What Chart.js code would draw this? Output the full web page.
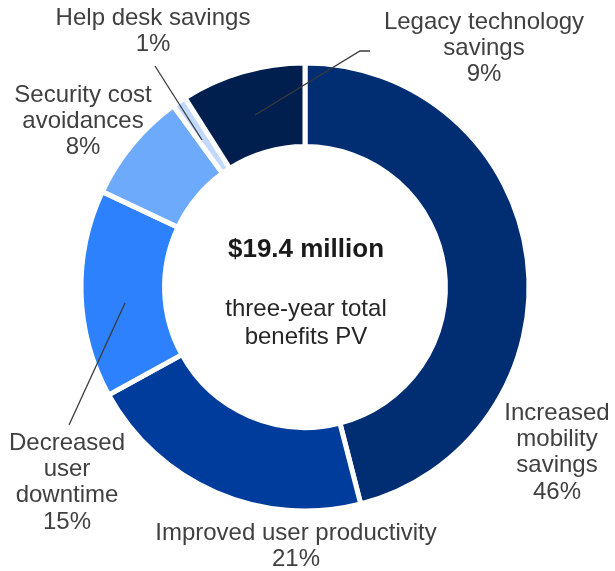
<!DOCTYPE html>
<html>
<head>
<meta charset="utf-8">
<script src="https://cdn.jsdelivr.net/npm/chart.js@4"></script>
<style>
html,body{margin:0;padding:0;background:#fff;}
#wrap{position:relative;width:615px;height:571px;}
</style>
</head>
<body>
<div id="wrap"><canvas id="c" width="615" height="571"></canvas></div>
<script>
// Data (clockwise from 12 o'clock)
const categories = ["Increased mobility savings", "Improved user productivity", "Decreased user downtime", "Security cost avoidances", "Help desk savings", "Legacy technology savings"];
const shares = [46, 21, 15, 8, 1, 9];
const sliceColors = ["#012D72", "#003C9B", "#2E81FD", "#6EAAFC", "#C0D9FC", "#001E4E"];
const centerTitle = "$19.4 million";
const centerSub = ["three-year total", "benefits PV"];
// label lines for each slice (text + percent)
const labelLines = [
  ["Increased", "mobility", "savings", "46%"],
  ["Improved user productivity", "21%"],
  ["Decreased", "user", "downtime", "15%"],
  ["Security cost", "avoidances", "8%"],
  ["Help desk savings", "1%"],
  ["Legacy technology", "savings", "9%"]
];

// Layout of labels (centre x, first line centre y) and leader lines – styling only
const labelPos = [
  [557, 413], [296, 533], [67, 443], [83, 95], [153, 18], [484, 22]
];
const leaders = {
  2: [[125, 303], [69, 425]],
  4: [[155, 66], [202, 140]],
  5: [[370, 51], [360, 51], [255, 115]]
};

const labelPlugin = {
  id: 'labels',
  afterDatasetsDraw(chart) {
    const ctx = chart.ctx;
    ctx.save();
    // leader lines
    ctx.strokeStyle = '#3a3a3a';
    ctx.lineWidth = 1.3;
    Object.keys(leaders).forEach(k => {
      const pts = leaders[k];
      ctx.beginPath();
      ctx.moveTo(pts[0][0], pts[0][1]);
      for (let i = 1; i < pts.length; i++) ctx.lineTo(pts[i][0], pts[i][1]);
      ctx.stroke();
    });
    // labels
    ctx.fillStyle = '#404040';
    ctx.font = '24px "Liberation Sans", Arial, sans-serif';
    ctx.textAlign = 'center';
    ctx.textBaseline = 'middle';
    labelLines.forEach((lines, i) => {
      const [x, y] = labelPos[i];
      lines.forEach((t, j) => ctx.fillText(t, x, y + j * 26.3));
    });
    // centre text
    const meta = chart.getDatasetMeta(0);
    const cx = meta.data[0].x, cy = meta.data[0].y;
    ctx.fillStyle = '#1a1a1a';
    ctx.font = 'bold 26px "Liberation Sans", Arial, sans-serif';
    ctx.fillText(centerTitle, cx + 1, cy - 37);
    ctx.fillStyle = '#262626';
    ctx.font = '24px "Liberation Sans", Arial, sans-serif';
    centerSub.forEach((t, j) => ctx.fillText(t, cx + 1, cy + 22 + j * 28));
    ctx.restore();
  }
};

new Chart(document.getElementById('c'), {
  type: 'doughnut',
  data: {
    labels: categories,
    datasets: [{
      data: shares,
      backgroundColor: sliceColors,
      borderColor: '#ffffff',
      borderWidth: 5,
      hoverOffset: 0,
      radius: 224,
      cutout: '62.7%'
    }]
  },
  options: {
    responsive: false,
    animation: false,
    layout: { padding: { left: 0, right: 5, top: 3, bottom: 0 } },
    plugins: { legend: { display: false }, tooltip: { enabled: false } }
  },
  plugins: [labelPlugin]
});
</script>
</body>
</html>
